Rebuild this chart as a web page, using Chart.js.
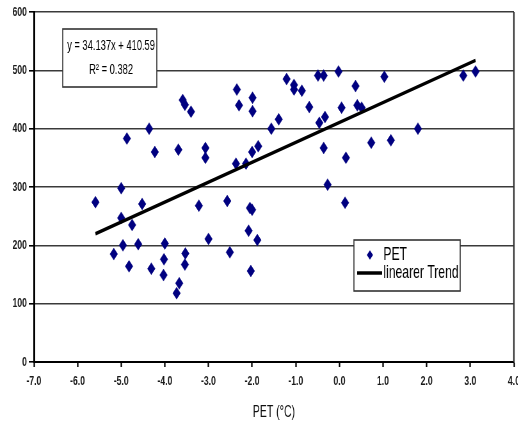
<!DOCTYPE html>
<html>
<head>
<meta charset="utf-8">
<script src="https://cdn.jsdelivr.net/npm/chart.js@4/dist/chart.umd.min.js"></script>
<style>
  html, body { margin: 0; padding: 0; background: #fff; overflow: hidden; }
  #wrap { width: 518px; height: 424px; overflow: hidden; }
  /* the source picture is squeezed horizontally, so the chart is drawn wide and scaled */
  #chart { transform: scaleX(0.64); transform-origin: 0 0; }
</style>
</head>
<body>
<div id="wrap"><canvas id="chart" width="810" height="424"></canvas></div>
<script>
  // PET (°C) on x, values on y
  const petX = [
    -2.35, -2.30, -1.99, -1.99, -3.59, -3.54, -3.40, -4.36, -4.87, -4.23,
    -3.69, -3.07, -3.07, -2.37, -2.14, -2.00, -1.86, -5.00, -1.21, -1.04,
    -1.04, -0.86, -0.49, -0.36, -0.02, 0.37, 1.03, -0.69, 0.05, 0.41,
    0.51, -1.39, -1.56, -0.46, -0.33, -0.36, 0.15, 0.73, 1.18, 1.80,
    -0.27, 0.13, 2.84, 3.12, -5.59, -5.00, -4.52, -4.75, -4.96, -5.17,
    -4.61, -4.82, -4.31, -4.00, -4.02, -4.03, -3.67, -3.73, -3.53, -3.54,
    -3.22, -3.00, -2.57, -2.51, -2.05, -2.00, -2.08, -2.03, -1.88
  ];
  const petY = [
    467, 440, 453, 430, 449, 441, 429, 400, 383, 360,
    364, 367, 350, 340, 340, 360, 370, 298, 485, 475,
    467, 465, 491, 491, 498, 473, 489, 437, 436, 440,
    436, 416, 400, 410, 420, 367, 350, 376, 380, 400,
    304, 273, 491, 498, 274, 247, 271, 235, 200, 185,
    202, 164, 160, 203, 176, 149, 135, 118, 186, 167,
    268, 211, 276, 188, 264, 261, 225, 156, 209
  ];
  const xTicks = [-7, -6, -5, -4, -3, -2, -1, 0, 1, 2, 3, 4];
  const yTicks = [0, 100, 200, 300, 400, 500, 600];

  const trendSlope = 34.137;
  const trendIntercept = 410.59;
  const rSquared = 0.382;

  const seriesName = "PET";
  const trendName = "linearer Trend";
  const xTitle = "PET (°C)";

  const navy = "#000080";
  const fontFam = "'Liberation Sans', Arial, sans-serif";

  const points = petX.map((x, i) => ({ x: x, y: petY[i] }));
  const xLo = Math.min(...petX);
  const xHi = Math.max(...petX);
  const trendPoints = [xLo, xHi].map((x) => ({ x: x, y: trendSlope * x + trendIntercept }));

  /**
   * right frame, equation box and legend box
   */
  const extras = {
    id: "extras",
    afterDraw(chart) {
      const ctx = chart.ctx;
      const a = chart.chartArea;
      ctx.save();

      // right frame line
      ctx.strokeStyle = "#333";
      ctx.lineWidth = 2.3;
      ctx.beginPath();
      ctx.moveTo(a.right, a.top);
      ctx.lineTo(a.right, a.bottom);
      ctx.stroke();

      // equation box
      const bx = a.left + 45, by = a.top + 17, bw = 147, bh = 58;
      ctx.fillStyle = "#fff";
      ctx.fillRect(bx, by, bw, bh);
      ctx.strokeStyle = "#333";
      ctx.lineWidth = 1.6;
      ctx.strokeRect(bx, by, bw, bh);
      ctx.fillStyle = "#000";
      ctx.font = "14.6px " + fontFam;
      ctx.textAlign = "center";
      ctx.textBaseline = "middle";
      ctx.fillText("y = " + trendSlope + "x + " + trendIntercept, bx + bw / 2 + 2, by + 17);
      ctx.fillText("R² = " + rSquared, bx + bw / 2 + 2, by + 41);

      // legend box
      const lx = a.left + 500, ly = a.top + 228, lw = 166, lh = 51;
      ctx.fillStyle = "#fff";
      ctx.fillRect(lx, ly, lw, lh);
      ctx.strokeStyle = "#333";
      ctx.lineWidth = 1.6;
      ctx.strokeRect(lx, ly, lw, lh);

      // diamond symbol
      const dx = lx + 25, dy = ly + 15, r = 4.8;
      ctx.fillStyle = navy;
      ctx.beginPath();
      ctx.moveTo(dx, dy - r);
      ctx.lineTo(dx + r, dy);
      ctx.lineTo(dx, dy + r);
      ctx.lineTo(dx - r, dy);
      ctx.closePath();
      ctx.fill();

      // line symbol
      ctx.strokeStyle = "#000";
      ctx.lineWidth = 3.5;
      ctx.beginPath();
      ctx.moveTo(lx + 5, ly + 33);
      ctx.lineTo(lx + 44, ly + 33);
      ctx.stroke();

      ctx.fillStyle = "#000";
      ctx.font = "19px " + fontFam;
      ctx.textAlign = "left";
      ctx.textBaseline = "middle";
      ctx.fillText(seriesName, lx + 46, dy);
      ctx.fillText(trendName, lx + 46, ly + 33);

      ctx.restore();
    },
  };

  new Chart(document.getElementById("chart"), {
    data: {
      datasets: [
        {
          type: "line",
          label: trendName,
          data: trendPoints,
          borderColor: "#000",
          borderWidth: 3.5,
          pointRadius: 0,
          fill: false,
          order: 0,
        },
        {
          type: "scatter",
          label: seriesName,
          data: points,
          pointStyle: "rectRot",
          pointRadius: 6,
          pointBackgroundColor: navy,
          pointBorderColor: navy,
          pointBorderWidth: 0.5,
          order: 1,
        },
      ],
    },
    options: {
      responsive: false,
      animation: false,
      events: [],
      layout: { padding: { top: 12, right: 7, left: 0, bottom: 0 } },
      plugins: {
        legend: { display: false },
        tooltip: { enabled: false },
      },
      scales: {
        x: {
          type: "linear",
          min: xTicks[0],
          max: xTicks[xTicks.length - 1],
          afterBuildTicks: (s) => { s.ticks = xTicks.map((v) => ({ value: v })); },
          afterFit: (s) => { s.height = 62; s.paddingLeft = 0; s.paddingRight = 0; },
          ticks: {
            autoSkip: false,
            maxRotation: 0,
            padding: 6,
            color: "#1a1a1a",
            font: { family: fontFam, size: 13.5, weight: "bold" },
            callback: (v) => Number(v).toFixed(1),
          },
          grid: {
            drawOnChartArea: false,
            drawTicks: true,
            tickLength: 5,
            tickColor: "#000",
            tickWidth: 2.3,
          },
          border: { display: true, color: "#000", width: 2 },
          title: {
            display: true,
            text: xTitle,
            color: "#111",
            font: { family: fontFam, size: 16.5 },
            padding: { top: 0, bottom: 2 },
          },
        },
        y: {
          min: yTicks[0],
          max: yTicks[yTicks.length - 1],
          afterBuildTicks: (s) => { s.ticks = yTicks.map((v) => ({ value: v })); },
          afterFit: (s) => { s.width = 53; },
          ticks: {
            padding: 3,
            color: "#1a1a1a",
            font: { family: fontFam, size: 13.5, weight: "bold" },
          },
          grid: {
            color: "#3a3a3a",
            lineWidth: 1.6,
            drawTicks: true,
            tickLength: 8,
            tickColor: "#000",
          },
          border: { display: true, color: "#000", width: 3 },
        },
      },
    },
    plugins: [extras],
  });
</script>
</body>
</html>
